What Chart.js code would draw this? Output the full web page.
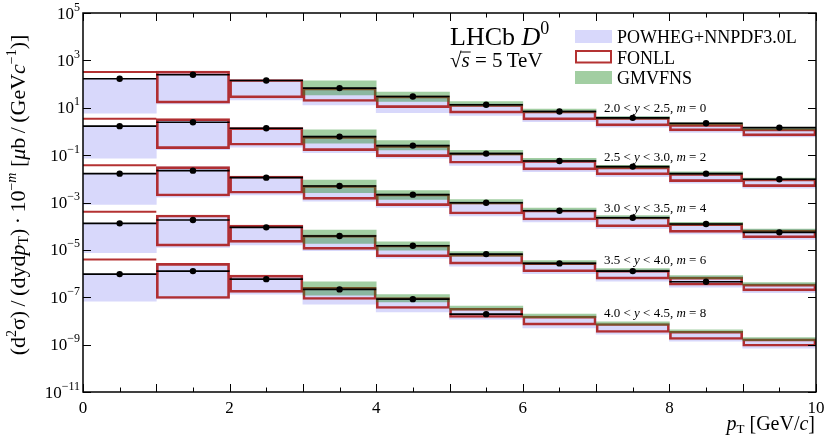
<!DOCTYPE html>
<html>
<head>
<meta charset="utf-8">
<script src="https://cdn.jsdelivr.net/npm/chart.js@4.4.1/dist/chart.umd.min.js"></script>
<style>
  html, body { margin: 0; padding: 0; background: #fff; }
</style>
</head>
<body>
<canvas id="xsecChart" width="831" height="443"></canvas>
<script>
// pT bins [GeV/c]
const ptCentres = [0.5, 1.5, 2.5, 3.5, 4.5, 5.5, 6.5, 7.5, 8.5, 9.5];
const xTickLabels = [0, 2, 4, 6, 8, 10];
const yTickExps = [5, 3, 1, -1, -3, -5, -7, -9, -11];
const rapidityLabels = [["2.0", "2.5", "0"], ["2.5", "3.0", "2"], ["3.0", "3.5", "4"], ["3.5", "4.0", "6"], ["4.0", "4.5", "8"]];

// LHCb measurement, one row per rapidity bin (already scaled by 10^-m)
const lhcb = [
    [1.67e2, 2.46e2, 1.41e2, 67.5, 29.8, 13.3, 6.90, 3.74, 2.23, 1.45],
    [1.67, 2.46, 1.37, 0.606, 0.252, 0.116, 0.0569, 0.0327, 0.0165, 0.00957],
    [0.0165, 0.0221, 0.0112, 4.99e-3, 2.14e-3, 9.81e-4, 4.50e-4, 2.28e-4, 1.23e-4, 5.50e-5],
    [1.32e-4, 1.82e-4, 8.93e-5, 3.83e-5, 1.49e-5, 6.64e-6, 2.69e-6, 1.27e-6, 4.48e-7, null],
    [9.48e-7, 1.27e-6, 5.82e-7, 2.14e-7, 8.32e-8, 1.93e-8, null, null, null, null]
];

// POWHEG+NNPDF3.0L band
const powhegHi = [
    [1.67e2, 3.4e2, 1.51e2, 72.9, 31.8, 14.6, 7.76, 4.12, 2.08, 1.35],
    [1.67, 3.24, 1.41, 0.648, 0.270, 0.130, 0.0627, 0.0333, 0.0177, 0.01035],
    [0.0165, 0.0317, 0.01256, 5.24e-3, 2.29e-3, 1.10e-3, 5.06e-4, 2.56e-4, 1.36e-4, 7.21e-5],
    [1.32e-4, 2.82e-4, 1.065e-4, 4.22e-5, 1.60e-5, 6.98e-6, 3.05e-6, 1.47e-6, 7.43e-7, 3.76e-7],
    [9.48e-7, 2.56e-6, 8.19e-7, 2.55e-7, 9.62e-8, 3.53e-8, 1.59e-8, 7.80e-9, 3.67e-9, 1.75e-9]
];
const powhegLo = [
    [5.9, 14.6, 21.6, 13.3, 6.27, 4.77, 2.61, 1.51, 0.912, 0.589],
    [0.074, 0.171, 0.216, 0.128, 0.074, 0.0367, 0.0200, 0.0123, 0.00649, 0.00398],
    [8.39e-4, 1.66e-3, 2.07e-3, 1.125e-3, 6.26e-4, 2.69e-4, 1.50e-4, 7.96e-5, 4.66e-5, 2.73e-5],
    [7.54e-6, 1.28e-5, 1.60e-5, 9.16e-6, 4.50e-6, 2.07e-6, 9.95e-7, 4.80e-7, 2.67e-7, 1.56e-7],
    [6.84e-8, 8.47e-8, 1.35e-7, 5.11e-8, 2.42e-8, 1.19e-8, 5.08e-9, 2.75e-9, 1.39e-9, 7.05e-10]
];

// FONLL band (lower edge of first bin not shown)
const fonllHi = [
    [3.2e2, 3.53e2, 1.56e2, 69.4, 31.8, 13.9, 7.39, 3.93, 1.99, 1.28],
    [3.40, 3.49, 1.45, 0.617, 0.257, 0.124, 0.0597, 0.0317, 0.0168, 0.00986],
    [0.0374, 0.0327, 0.0132, 5.24e-3, 2.29e-3, 1.05e-3, 4.82e-4, 2.44e-4, 1.29e-4, 6.87e-5],
    [4.08e-4, 2.96e-4, 1.12e-4, 4.22e-5, 1.60e-5, 6.64e-6, 2.90e-6, 1.40e-6, 7.08e-7, 3.58e-7],
    [3.96e-6, 2.69e-6, 8.59e-7, 2.60e-7, 9.62e-8, 3.43e-8, 1.59e-8, 7.80e-9, 3.67e-9, 1.75e-9]
];
const fonllLo = [
    [null, 15.6, 26.2, 18.3, 10.2, 5.92, 3.08, 1.72, 1.05, 0.648],
    [null, 0.188, 0.262, 0.155, 0.0865, 0.0455, 0.0237, 0.01455, 0.00758, 0.00465],
    [null, 1.88e-3, 2.45e-3, 1.365e-3, 7.33e-4, 3.26e-4, 1.82e-4, 9.48e-5, 5.50e-5, 3.25e-5],
    [null, 1.45e-5, 2.07e-5, 1.05e-5, 5.11e-6, 2.51e-6, 1.19e-6, 5.82e-7, 3.25e-7, 1.86e-7],
    [null, 8.89e-8, 1.60e-7, 8.07e-8, 3.36e-8, 1.40e-8, 6.61e-9, 3.25e-9, 1.64e-9, 8.55e-10]
];

// GMVFNS band (pT > 3 GeV/c only)
const gmvfnsHi = [
    [null, null, null, 1.37e2, 45.7, 18.3, 8.73, 4.25, 2.30, 1.41],
    [null, null, null, 1.16, 0.410, 0.161, 0.0725, 0.0367, 0.0195, 0.01086],
    [null, null, null, 8.93e-3, 3.15e-3, 1.34e-3, 5.85e-4, 2.82e-4, 1.455e-4, 7.57e-5],
    [null, null, null, 6.87e-5, 2.20e-5, 8.47e-6, 3.53e-6, 1.62e-6, 8.19e-7, 4.14e-7],
    [null, null, null, 4.48e-7, 1.31e-7, 4.29e-8, 1.93e-8, 9.12e-9, 4.25e-9, 1.98e-9]
];
const gmvfnsLo = [
    [null, null, null, 35.1, 18.3, 12.0, 6.39, 3.40, 1.89, 1.16],
    [null, null, null, 0.318, 0.166, 0.102, 0.0542, 0.0288, 0.0153, 0.00894],
    [null, null, null, 2.60e-3, 1.365e-3, 8.64e-4, 4.37e-4, 2.10e-4, 1.12e-4, 5.94e-5],
    [null, null, null, 1.88e-5, 9.81e-6, 5.47e-6, 2.51e-6, 1.21e-6, 6.11e-7, 3.25e-7],
    [null, null, null, 1.23e-7, 6.40e-8, 2.90e-8, 1.37e-8, 6.61e-9, 3.17e-9, 1.48e-9]
];

const BLUE = "#d8d8fb";
const RED = "rgba(172, 28, 28, 0.9)";
const GREEN = "rgba(34, 139, 34, 0.42)";
const SERIF = '"Liberation Serif", "DejaVu Serif", serif';
const font = (size, style) => (style || "") + " " + size + "px " + SERIF;

function floatBars(lo, hi) {
    return ptCentres
        .map((x, i) => (lo[i] == null || hi[i] == null) ? null : { x: x, y: [lo[i], hi[i]] })
        .filter(Boolean);
}

// horizontal segment across each bin, broken between bins
function binSegments(vals, onlyFirst) {
    const pts = [];
    vals.forEach((v, i) => {
        if (v == null || (onlyFirst && i > 0)) return;
        const x0 = ptCentres[i] - 0.5, x1 = ptCentres[i] + 0.5;
        pts.push({ x: x0, y: v }, { x: x1, y: v }, { x: x1, y: null });
    });
    return pts;
}

const datasets = [];
for (let r = 0; r < lhcb.length; r++) {
    datasets.push({
        type: "bar", data: floatBars(powhegLo[r], powhegHi[r]),
        backgroundColor: BLUE, borderWidth: 0, order: 40
    });
    datasets.push({
        type: "bar", data: floatBars(fonllLo[r], fonllHi[r]),
        backgroundColor: "rgba(0,0,0,0)", borderColor: RED, borderWidth: 2,
        borderSkipped: false, order: 30
    });
    datasets.push({
        type: "line", data: binSegments(fonllHi[r], true),
        borderColor: RED, borderWidth: 2, pointRadius: 0, order: 30
    });
    datasets.push({
        type: "bar", data: floatBars(gmvfnsLo[r], gmvfnsHi[r]),
        backgroundColor: GREEN, borderWidth: 0, order: 20
    });
    datasets.push({
        type: "line", data: binSegments(lhcb[r], false),
        borderColor: "#000", borderWidth: 1.6, pointRadius: 0, order: 10
    });
    datasets.push({
        type: "line", showLine: false,
        data: ptCentres.map((x, i) => ({ x: x, y: lhcb[r][i] })),
        pointRadius: 3.2, pointBackgroundColor: "#000", pointBorderWidth: 0, order: 0
    });
}

function drawRich(ctx, parts, x, y, align) {
    let w = 0;
    parts.forEach(p => { ctx.font = p.f; w += ctx.measureText(p.t).width; });
    let cx = align === "right" ? x - w : (align === "center" ? x - w / 2 : x);
    parts.forEach(p => {
        ctx.font = p.f;
        ctx.fillText(p.t, cx, y + (p.dy || 0));
        cx += ctx.measureText(p.t).width;
    });
    return w;
}

const axesPlugin = {
    id: "hepAxes",
    afterDraw(chart) {
        const ctx = chart.ctx;
        const xs = chart.scales.x, ys = chart.scales.y;
        const a = chart.chartArea;
        ctx.save();
        ctx.fillStyle = "#000";
        ctx.strokeStyle = "#000";
        ctx.textAlign = "left";
        ctx.textBaseline = "alphabetic";

        // frame
        ctx.lineWidth = 1.5;
        ctx.strokeRect(a.left, a.top, a.right - a.left, a.bottom - a.top);

        // x ticks (inward, top and bottom)
        ctx.lineWidth = 1;
        ctx.beginPath();
        for (let v = 0; v <= 10; v += 0.5) {
            const px = Math.round(xs.getPixelForValue(v)) + 0.5;
            const len = Number.isInteger(v) ? 8 : 4.5;
            ctx.moveTo(px, a.bottom); ctx.lineTo(px, a.bottom - len);
            ctx.moveTo(px, a.top); ctx.lineTo(px, a.top + len);
        }
        // y ticks (inward, left and right)
        yTickExps.forEach(e => {
            const py = Math.round(ys.getPixelForValue(Math.pow(10, e))) + 0.5;
            ctx.moveTo(a.left, py); ctx.lineTo(a.left + 8, py);
            ctx.moveTo(a.right, py); ctx.lineTo(a.right - 8, py);
        });
        ctx.stroke();

        // tick labels
        ctx.textAlign = "center";
        ctx.font = font(17);
        xTickLabels.forEach(v => ctx.fillText(String(v), xs.getPixelForValue(v), a.bottom + 21));
        ctx.textAlign = "left";
        yTickExps.forEach(e => {
            const py = ys.getPixelForValue(Math.pow(10, e));
            const ex = e < 0 ? "\u2212" + (-e) : String(e);
            drawRich(ctx, [{ t: "10", f: font(17) }, { t: ex, f: font(12), dy: -8 }], a.left - 3, py + 5.5, "right");
        });

        // x title
        drawRich(ctx, [
            { t: "p", f: font(20, "italic") }, { t: "T", f: font(13), dy: 3 },
            { t: " [GeV/", f: font(20) }, { t: "c", f: font(20, "italic") }, { t: "]", f: font(20) }
        ], a.right - 1, a.bottom + 38, "right");

        // y title (rotated)
        ctx.save();
        ctx.translate(19, 195);
        ctx.rotate(-Math.PI / 2);
        drawRich(ctx, [
            { t: "(d", f: font(22) }, { t: "2", f: font(14), dy: -9 },
            { t: "\u03C3)\u2009/\u2009(dyd", f: font(22) }, { t: "p", f: font(22, "italic") },
            { t: "T", f: font(14), dy: 3 }, { t: ")\u2009\u00B7\u200910", f: font(22) },
            { t: "\u2212", f: font(14), dy: -9 }, { t: "m", f: font(14, "italic"), dy: -9 },
            { t: " [", f: font(22) }, { t: "\u03BC", f: font(22, "italic") },
            { t: "b\u2009/\u2009(GeV", f: font(22) }, { t: "c", f: font(22, "italic") },
            { t: "\u22121", f: font(14), dy: -9 }, { t: ")]", f: font(22) }
        ], 0, 6, "center");
        ctx.restore();

        // experiment label
        drawRich(ctx, [
            { t: "LHCb ", f: font(26) }, { t: "D", f: font(26, "italic") }, { t: "0", f: font(18), dy: -11 }
        ], 450, 45, "left");
        ctx.font = font(21);
        ctx.fillText("\u221A", 450, 67);
        const rw = ctx.measureText("\u221A").width;
        ctx.font = font(21, "italic");
        const sw = ctx.measureText("s").width;
        ctx.fillText("s", 450 + rw, 67);
        ctx.lineWidth = 1;
        ctx.beginPath();
        ctx.moveTo(450 + rw - 1, 52); ctx.lineTo(450 + rw + sw + 1, 52);
        ctx.stroke();
        ctx.font = font(21);
        ctx.fillText(" = 5\u2009TeV", 450 + rw + sw, 67);

        // legend
        ctx.fillStyle = BLUE;
        ctx.fillRect(575, 30, 37, 13);
        ctx.strokeStyle = RED;
        ctx.lineWidth = 2;
        ctx.strokeRect(576, 51, 35, 11.5);
        ctx.fillStyle = GREEN;
        ctx.fillRect(575, 71, 37, 13);
        ctx.fillStyle = "#000";
        ctx.font = font(18);
        ctx.fillText("POWHEG+NNPDF3.0L", 617, 43);
        ctx.fillText("FONLL", 617, 63.5);
        ctx.fillText("GMVFNS", 617, 84);

        // rapidity bin labels
        const labelBase = [112, 161, 212, 264, 317];
        rapidityLabels.forEach((l, i) => {
            drawRich(ctx, [
                { t: l[0] + " < ", f: font(13) }, { t: "y", f: font(13, "italic") },
                { t: " < " + l[1] + ", ", f: font(13) }, { t: "m", f: font(13, "italic") },
                { t: " = " + l[2], f: font(13) }
            ], 604, labelBase[i], "left");
        });
        ctx.restore();
    }
};

new Chart(document.getElementById("xsecChart"), {
    type: "bar",
    data: { datasets: datasets },
    options: {
        responsive: false,
        animation: false,
        events: [],
        layout: { padding: { left: 83, right: 15, top: 13, bottom: 51 } },
        datasets: { bar: { grouped: false, barPercentage: 1, categoryPercentage: 1 } },
        plugins: { legend: { display: false }, tooltip: { enabled: false } },
        scales: {
            x: { type: "linear", min: 0, max: 10, offset: false, display: false, ticks: { stepSize: 1 } },
            y: { type: "logarithmic", min: 1e-11, max: 1e5, display: false }
        }
    },
    plugins: [axesPlugin]
});
</script>
</body>
</html>
